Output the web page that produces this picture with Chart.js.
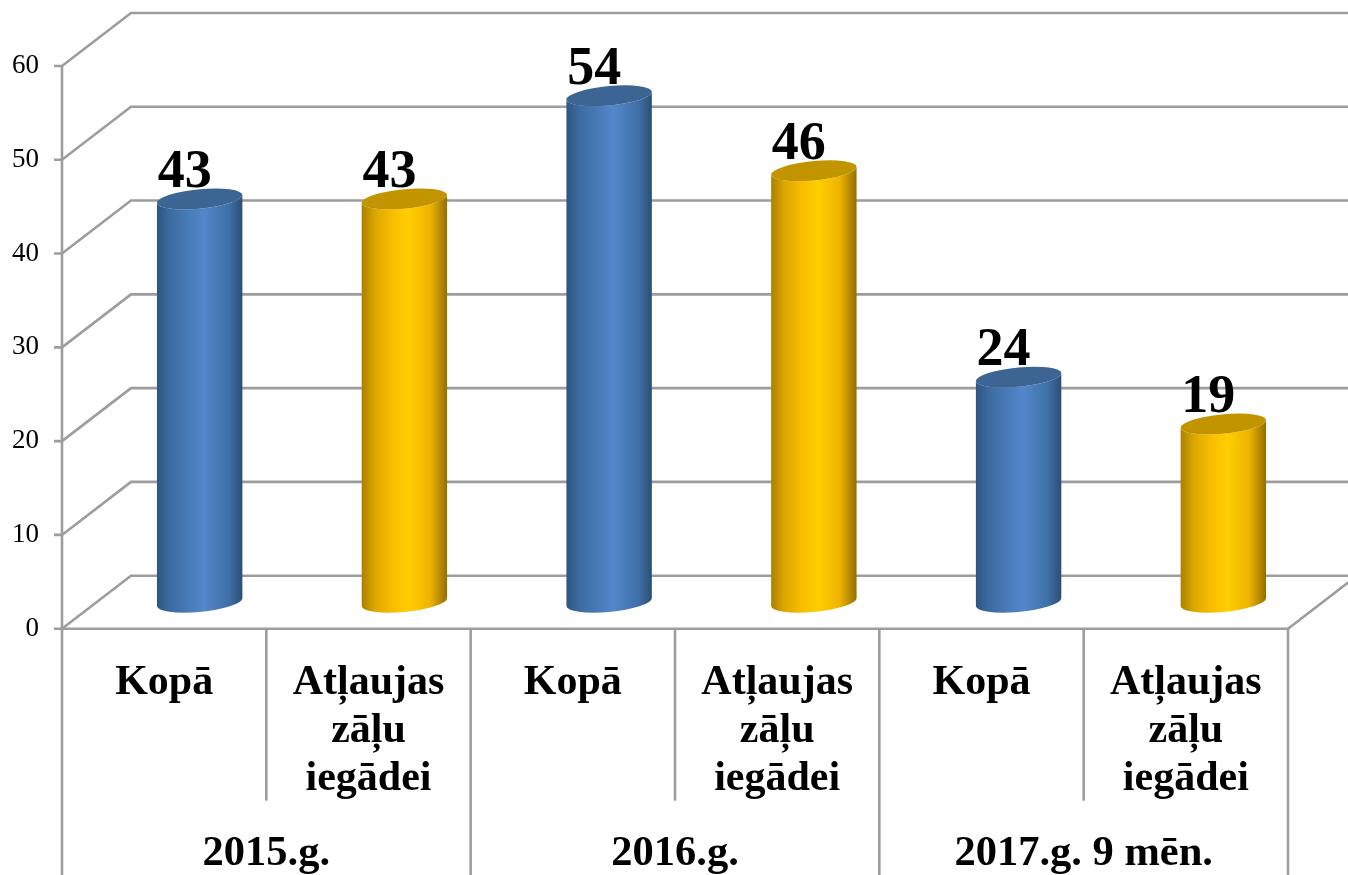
<!DOCTYPE html>
<html><head><meta charset="utf-8">
<style>html,body{margin:0;padding:0;background:#fff}canvas{display:block}</style>
<script src="https://cdn.jsdelivr.net/npm/chart.js@4/dist/chart.umd.min.js"></script>
</head><body>
<div style="width:1348px;height:875px"><canvas id="c" width="1348" height="875"></canvas></div>
<script>
const categories = ["Kopā", ["Atļaujas","zāļu","iegādei"], "Kopā", ["Atļaujas","zāļu","iegādei"], "Kopā", ["Atļaujas","zāļu","iegādei"]];
const groups = ["2015.g.", "2016.g.", "2017.g. 9 mēn."];
const values = [43, 43, 54, 46, 24, 19];
const barColors = ["#4f81bd","#ffc000","#4f81bd","#ffc000","#4f81bd","#ffc000"];
const yTicks = [0,10,20,30,40,50,60];

const GRID = "#9d9d9d", DX = 69, DY = 53, SEP = 172, SERIF = '"Liberation Serif","Times New Roman",serif';
const palette = {
  "#4f81bd": {top:"#3c6593", stops:[[0,"#2f5483"],[.15,"#3c6ba1"],[.55,"#5287cb"],[.85,"#3e6fa6"],[1,"#2d4d74"]]},
  "#ffc000": {top:"#c29500", stops:[[0,"#a98100"],[.15,"#dba600"],[.35,"#f8bc00"],[.55,"#ffce00"],[.8,"#efb400"],[1,"#927000"]]}
};

const wall = {
  id:"wall",
  beforeDatasetsDraw(chart){
    const {ctx, scales:{x,x2,y}, chartArea:a} = chart;
    const L=a.left, R=a.right;
    ctx.save();
    ctx.strokeStyle=GRID; ctx.lineWidth=2.6; ctx.lineJoin="miter";
    yTicks.forEach(v=>{
      const p=y.getPixelForValue(v);
      ctx.beginPath(); ctx.moveTo(L-8,p); ctx.lineTo(L,p); ctx.lineTo(L+DX,p-DY); ctx.lineTo(chart.width,p-DY); ctx.stroke();
    });
    const zero=y.getPixelForValue(0), top=y.getPixelForValue(60);
    ctx.beginPath(); ctx.moveTo(L,top); ctx.lineTo(L,zero); ctx.lineTo(R,zero); ctx.lineTo(R+DX,zero-DY); ctx.stroke();
    const w=(R-L)/categories.length;
    for(let i=0;i<categories.length;i++){
      const sx=x.getPixelForValue(i)-w/2;
      if(i%2===1){ctx.beginPath();ctx.moveTo(sx,zero);ctx.lineTo(sx,zero+SEP);ctx.stroke();}
    }
    const gw=(R-L)/groups.length;
    for(let i=0;i<groups.length;i++){
      const sx=x2.getPixelForValue(i)-gw/2;
      ctx.beginPath();ctx.moveTo(sx,zero);ctx.lineTo(sx,chart.height);ctx.stroke();
    }
    ctx.beginPath();ctx.moveTo(R,zero);ctx.lineTo(R,chart.height);ctx.stroke();
    ctx.restore();
  },
  beforeDatasetDraw(chart,args){
    const {ctx, chartArea:a}=chart;
    const meta=chart.getDatasetMeta(args.index);
    const colors=chart.data.datasets[args.index].backgroundColor;
    const data=chart.data.datasets[args.index].data;
    meta.data.forEach((bar,i)=>{
      const dx=35.5+(bar.x-a.left-102)/1022*2;
      const cx=bar.x+dx, r=bar.width/2, b=9.7, shear=0.09;
      const topY=bar.y-26.5, baseY=bar.base-26.5;
      const pal=palette[colors[i]];
      ctx.save();
      ctx.translate(cx,0);
      ctx.transform(1,-shear,0,1,0,0);
      const g=ctx.createLinearGradient(-r,0,r,0);
      pal.stops.forEach(s=>g.addColorStop(s[0],s[1]));
      ctx.beginPath();
      ctx.moveTo(-r,topY); ctx.lineTo(-r,baseY);
      ctx.ellipse(0,baseY,r,b,0,Math.PI,0,true);
      ctx.lineTo(r,topY);
      ctx.ellipse(0,topY,r,b,0,0,Math.PI,false);
      ctx.closePath();
      ctx.fillStyle=g; ctx.fill();
      ctx.beginPath();
      ctx.ellipse(0,topY,r,b,0,0,Math.PI*2);
      ctx.fillStyle=pal.top; ctx.fill();
      ctx.restore();
      ctx.save();
      ctx.fillStyle="#000"; ctx.font='bold 54px '+SERIF;
      ctx.textAlign="center"; ctx.textBaseline="alphabetic";
      ctx.fillText(String(data[i]),cx-15,topY-12);
      ctx.restore();
    });
    return false;
  }
};

new Chart(document.getElementById("c"),{
  type:"bar",
  data:{labels:categories,datasets:[{data:values,backgroundColor:barColors,xAxisID:"x",yAxisID:"y",barPercentage:0.418,categoryPercentage:1}]},
  options:{
    responsive:false,animation:false,
    layout:{padding:{top:66,right:60,bottom:0,left:0}},
    plugins:{legend:{display:false},title:{display:false},tooltip:{enabled:false}},
    scales:{
      y:{min:0,max:60,afterBuildTicks(s){s.ticks=yTicks.map(v=>({value:v}));},
         afterFit(s){s.width=62;},
         grid:{display:false},border:{display:false},
         ticks:{color:"#000",font:{family:SERIF,size:27},padding:15,autoSkip:false}},
      x:{type:"category",offset:true,position:"bottom",afterFit(s){s.height=178;},
         grid:{display:false},border:{display:false},
         ticks:{color:"#000",font:{family:SERIF,size:42,weight:"bold",lineHeight:1.15},padding:22,maxRotation:0,minRotation:0,autoSkip:false}},
      x2:{type:"category",labels:groups,offset:true,position:"bottom",afterFit(s){s.height=68.3;},
         grid:{display:false},border:{display:false},
         ticks:{color:"#000",font:{family:SERIF,size:42.5,weight:"bold",lineHeight:1.15},padding:15,maxRotation:0,minRotation:0,autoSkip:false}}
    }
  },
  plugins:[wall]
});
</script>
</body></html>
